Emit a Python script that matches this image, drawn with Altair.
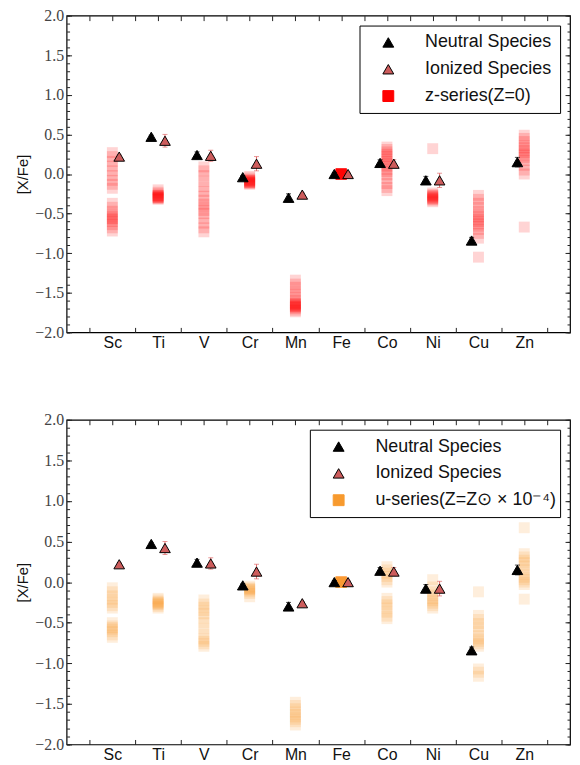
import altair as alt
import pandas as pd

# ---------------- data ----------------
elements = ["Sc", "Ti", "V", "Cr", "Mn", "Fe", "Co", "Ni", "Cu", "Zn"]
positions = [1, 2, 3, 4, 5, 6, 7, 8, 9, 10]

neutral_elem = ["Ti", "V", "Cr", "Mn", "Fe", "Co", "Ni", "Cu", "Zn"]
neutral_val = [0.47, 0.24, -0.04, -0.30, 0.00, 0.14, -0.08, -0.84, 0.15]
neutral_err = [0.02, 0.04, 0.02, 0.05, 0.02, 0.04, 0.05, 0.04, 0.06]

ionized_elem = ["Sc", "Ti", "V", "Cr", "Mn", "Fe", "Co", "Ni"]
ionized_val = [0.22, 0.42, 0.23, 0.13, -0.26, 0.00, 0.13, -0.08]
ionized_err = [0.02, 0.08, 0.07, 0.09, 0.02, 0.02, 0.05, 0.09]

# z-series (Z=0) model values, one list per element (Sc ... Zn)
z_series = [
    [0.27, 0.22, 0.16, 0.10, 0.04, -0.02, -0.08, -0.13, -0.18, -0.37, -0.42, -0.47,
     -0.51, -0.54, -0.56, -0.57, -0.60, -0.64, -0.68, -0.72],
    [-0.20, -0.23, -0.25, -0.27, -0.28, -0.29, -0.30, -0.31, -0.32, -0.27, -0.30, -0.29],
    [0.09, 0.04, -0.02, -0.09, -0.16, -0.22, -0.28, -0.33, -0.38, -0.42, -0.46, -0.50,
     -0.56, -0.62, -0.68, -0.73],
    [-0.03, -0.05, -0.07, -0.08, -0.09, -0.10, -0.11, -0.12, -0.13, -0.08, -0.10, -0.11],
    [-1.34, -1.39, -1.43, -1.48, -1.52, -1.56, -1.60, -1.63, -1.64, -1.65, -1.66, -1.67,
     -1.68, -1.68, -1.70, -1.72, -1.74],
    [0.0, 0.0, 0.0, 0.0, 0.0, 0.0, 0.0, 0.0, 0.0, 0.0, 0.0, 0.0, 0.0, 0.0, 0.0, 0.0,
     0.0, 0.0, 0.0, 0.0],
    [0.34, 0.31, 0.28, 0.25, 0.22, 0.19, 0.16, 0.13, 0.10, 0.06, 0.03, -0.01, -0.06,
     -0.12, -0.17, -0.21],
    [0.32, -0.24, -0.26, -0.27, -0.28, -0.29, -0.30, -0.31, -0.32, -0.33, -0.35],
    [-0.27, -0.32, -0.37, -0.42, -0.47, -0.51, -0.54, -0.57, -0.60, -0.63, -0.66, -0.70,
     -0.75, -0.81, -1.05],
    [0.49, 0.45, 0.41, 0.36, 0.33, 0.30, 0.27, 0.24, 0.21, 0.17, 0.11, 0.05, 0.00, -0.67],
]

# u-series (Z = Zsun x 1e-4) model values, one list per element (Sc ... Zn)
u_series = [
    [-0.07, -0.12, -0.17, -0.21, -0.25, -0.29, -0.32, -0.50, -0.54, -0.56, -0.58, -0.61,
     -0.65, -0.68],
    [-0.20, -0.22, -0.24, -0.25, -0.26, -0.27, -0.28, -0.30, -0.32],
    [-0.22, -0.27, -0.31, -0.35, -0.39, -0.44, -0.50, -0.57, -0.64, -0.70, -0.73, -0.76,
     -0.79],
    [-0.05, -0.07, -0.08, -0.09, -0.10, -0.12, -0.14, -0.18],
    [-1.48, -1.52, -1.56, -1.60, -1.63, -1.66, -1.69, -1.72, -1.76],
    [0.0, 0.0, 0.0, 0.0, 0.0, 0.0, 0.0, 0.0, 0.0, 0.0, 0.0, 0.0, 0.0, 0.0, 0.0, 0.0,
     0.0, 0.0, 0.0, 0.0],
    [0.19, 0.15, 0.11, 0.07, 0.03, 0.00, -0.20, -0.24, -0.28, -0.32, -0.37, -0.42, -0.45],
    [0.03, -0.06, -0.12, -0.16, -0.20, -0.23, -0.26, -0.29, -0.32],
    [-0.12, -0.41, -0.46, -0.51, -0.55, -0.60, -0.66, -0.70, -0.73, -0.76, -0.79, -1.07,
     -1.11, -1.16],
    [0.67, 0.35, 0.31, 0.27, 0.24, 0.20, 0.15, 0.10, 0.06, 0.03, 0.00, -0.03, -0.21],
]

y_major = [-2.0, -1.5, -1.0, -0.5, 0.0, 0.5, 1.0, 1.5, 2.0]
y_minor = [round(-2.0 + 0.1 * i, 1) for i in range(41)]
x_half = [0.5, 1.5, 2.5, 3.5, 4.5, 5.5, 6.5, 7.5, 8.5, 9.5, 10.5]
x_top = [0.5, 1, 1.5, 2, 2.5, 3, 3.5, 4, 4.5, 5, 5.5, 6, 6.5, 7, 7.5, 8, 8.5, 9, 9.5,
         10, 10.5]

NEUTRAL = "Neutral Species"
IONIZED = "Ionized Species"
ION_COLOR = "#cd5c5c"
ION_ERR = "#e06a6a"

xs = alt.Scale(domain=[0, 11], nice=False, zero=False)
ys = alt.Scale(domain=[-2, 2], nice=False, zero=False)

label_expr = "{" + ",".join(f"'{p}':'{e}'" for p, e in zip(positions, elements)) + "}[datum.value] || ''"


def tick_axis(orient, values, size):
    return alt.Axis(orient=orient, values=values, tickSize=size, offset=-size, labels=False,
                    domain=False, grid=False, ticks=True, tickColor="#222", tickWidth=1,
                    title=None)


axis_x_labels = alt.Axis(orient="bottom", values=positions, labelExpr=label_expr, ticks=False,
                         domain=False, grid=False, labelPadding=2, labelFont="Liberation Sans",
                         labelFontSize=16, labelColor="#111", title=None)
axis_y_left = alt.Axis(orient="left", values=y_major, format=".1f", tickSize=5, offset=-5,
                       domain=False, grid=False, tickColor="#222", labelPadding=3,
                       labelFont="Liberation Serif", labelFontSize=16, labelColor="#444",
                       title="[X/Fe]", titleFont="Liberation Sans", titleFontSize=15,
                       titleFontWeight="normal", titleColor="#111", titlePadding=4)

obs_rows = []
for e, v, er in zip(neutral_elem, neutral_val, neutral_err):
    p = positions[elements.index(e)]
    obs_rows.append({"x": p - 0.15, "y": v, "lo": v - er, "hi": v + er, "series": NEUTRAL})
for e, v, er in zip(ionized_elem, ionized_val, ionized_err):
    p = positions[elements.index(e)]
    obs_rows.append({"x": p + 0.15, "y": v, "lo": v - er, "hi": v + er, "series": IONIZED})
obs = pd.DataFrame(obs_rows)


def panel(model_vals, model_color, model_label, height):
    sq = pd.DataFrame([{"x": p, "y": v} for p, vals in zip(positions, model_vals) for v in vals])
    dom = [NEUTRAL, IONIZED, model_label]
    legend = alt.Legend(title=None, orient="top-right", offset=10, padding=8,
                        strokeColor="black", fillColor="white", cornerRadius=0,
                        labelFont="Liberation Sans", labelFontSize=18, labelColor="#111",
                        labelLimit=400, symbolSize=120, symbolStrokeWidth=1,
                        symbolOffset=12, labelOffset=28, rowPadding=9, symbolOpacity=1)

    squares = alt.Chart(sq).mark_square(size=121, opacity=0.17, color=model_color).encode(
        x=alt.X("x:Q", scale=xs, axis=axis_x_labels),
        y=alt.Y("y:Q", scale=ys, axis=axis_y_left),
    )
    ticks_a = alt.Chart(sq).mark_point(opacity=0).encode(
        x=alt.X("x:Q", scale=xs, axis=tick_axis("bottom", x_half, 5)),
        y=alt.Y("y:Q", scale=ys, axis=tick_axis("left", y_minor, 3)),
    )
    ticks_b = alt.Chart(sq).mark_point(opacity=0).encode(
        x=alt.X("x:Q", scale=xs, axis=tick_axis("top", x_top, 5)),
        y=alt.Y("y:Q", scale=ys, axis=tick_axis("right", y_major, 5)),
    )
    ticks_c = alt.Chart(sq).mark_point(opacity=0).encode(
        x=alt.X("x:Q", scale=xs, axis=None),
        y=alt.Y("y:Q", scale=ys, axis=tick_axis("right", y_minor, 3)),
    )

    layers = [squares, ticks_a, ticks_b, ticks_c]
    for name, col in [(NEUTRAL, "black"), (IONIZED, ION_ERR)]:
        base = alt.Chart(obs).transform_filter(alt.datum.series == name)
        layers.append(base.mark_rule(color=col, strokeWidth=1).encode(
            x=alt.X("x:Q", scale=xs, axis=None),
            y=alt.Y("lo:Q", scale=ys, axis=None), y2="hi:Q"))
        for f in ["lo", "hi"]:
            layers.append(base.mark_tick(color=col, orient="horizontal", size=5, thickness=1).encode(
                x=alt.X("x:Q", scale=xs, axis=None),
                y=alt.Y(f"{f}:Q", scale=ys, axis=None)))

    tri = alt.Chart(obs).mark_point(filled=True, size=115, opacity=1, strokeWidth=1).encode(
        x=alt.X("x:Q", scale=xs, axis=None),
        y=alt.Y("y:Q", scale=ys, axis=None),
        fill=alt.Fill("series:N", scale=alt.Scale(domain=dom, range=["black", ION_COLOR, model_color]),
                      legend=legend),
        stroke=alt.Stroke("series:N", scale=alt.Scale(domain=dom, range=["black", "black", model_color]),
                          legend=legend),
        shape=alt.Shape("series:N", scale=alt.Scale(domain=dom, range=["triangle-up", "triangle-up", "square"]),
                        legend=legend),
    )
    layers.append(tri)
    return alt.layer(*layers).resolve_axis(x="independent", y="independent").properties(
        width=507, height=height)


top = panel(z_series, "#ff0000", "z-series(Z=0)", 319)
bottom = panel(u_series, "#f79a2e", "u-series(Z=Z\u2299 \u00d7 10\u207b\u2074)", 327)

chart = alt.vconcat(top, bottom, spacing=60).resolve_scale(
    fill="independent", stroke="independent", shape="independent"
).resolve_legend(fill="independent", stroke="independent", shape="independent").properties(
    padding={"left": 7, "top": -4, "right": 0, "bottom": 0}
).configure_view(stroke="black", strokeWidth=1.2)

chart.save("out.html", embed_options={"renderer": "svg", "actions": False})
